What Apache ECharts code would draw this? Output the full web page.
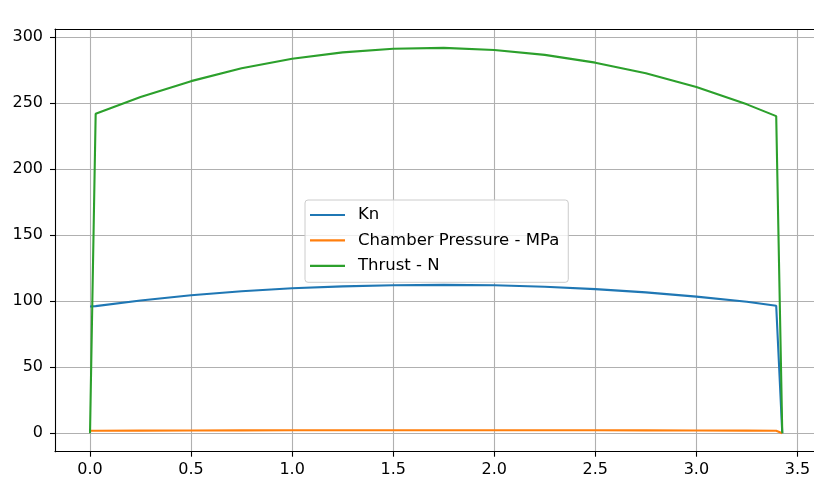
<!DOCTYPE html>
<html>
<head>
<meta charset="utf-8">
<script src="https://cdn.jsdelivr.net/npm/echarts@6/dist/echarts.min.js"></script>
<style>
  html, body { margin: 0; padding: 0; background: #ffffff; }
  #chart { width: 814px; height: 478px; }
</style>
</head>
<body>
<div id="chart"></div>
<script>
// Burn simulation output: time in seconds
const time = [0, 0.028, 0.25, 0.5, 0.75, 1.0, 1.25, 1.5, 1.75, 2.0, 2.25, 2.5, 2.75, 3.0, 3.25, 3.395, 3.425];
const kn = [96, 96.3, 100.6, 104.6, 107.6, 109.8, 111.3, 112.1, 112.4, 112.1, 111.0, 109.2, 106.7, 103.5, 99.6, 96.6, 0];
const pressure = [1.9, 1.9, 2.0, 2.1, 2.18, 2.24, 2.28, 2.3, 2.3, 2.29, 2.26, 2.21, 2.15, 2.07, 1.97, 1.9, 0];
const thrust = [0, 242, 254.8, 266.8, 276.5, 283.8, 288.6, 291.3, 292, 290.4, 286.7, 280.8, 272.7, 262.4, 249.2, 240.3, 0];

const xTicks = [0, 0.5, 1.0, 1.5, 2.0, 2.5, 3.0, 3.5];
const yTicks = [0, 50, 100, 150, 200, 250, 300];

const FONT = 'DejaVu Sans';
const colors = ['#1f77b4', '#ff7f0e', '#2ca02c'];

function pairs(ys) {
  return time.map((t, i) => [t, ys[i]]);
}

const chart = echarts.init(document.getElementById('chart'), null, { renderer: 'canvas' });

const X_MIN = -0.1732;
const X_MAX = 3.582;

chart.setOption({
  animation: false,
  backgroundColor: '#ffffff',
  color: colors,
  grid: { left: 55, top: 29, width: 759, height: 422.7, containLabel: false },
  xAxis: [
    {
      type: 'value',
      min: X_MIN,
      max: X_MAX,
      position: 'bottom',
      axisLine: { show: true, onZero: false, lineStyle: { color: '#000', width: 1.1 } },
      axisTick: { show: true, length: 5, customValues: xTicks, lineStyle: { color: '#000', width: 1.1 } },
      axisLabel: {
        show: true, customValues: xTicks, margin: 10,
        color: '#000', fontSize: 16, fontFamily: FONT,
        formatter: v => v.toFixed(1)
      },
      splitLine: { show: true, customValues: xTicks, lineStyle: { color: '#b0b0b0', width: 1.1 } }
    },
    {
      type: 'value',
      min: X_MIN,
      max: X_MAX,
      position: 'top',
      axisLine: { show: true, onZero: false, lineStyle: { color: '#000', width: 1.1 } },
      axisTick: { show: false },
      axisLabel: { show: false },
      splitLine: { show: false }
    }
  ],
  yAxis: {
    type: 'value',
    min: -14.0,
    max: 306.3,
    axisLine: { show: true, onZero: false, lineStyle: { color: '#000', width: 1.1 } },
    axisTick: { show: true, length: 5, customValues: yTicks, lineStyle: { color: '#000', width: 1.1 } },
    axisLabel: {
      show: true, customValues: yTicks, margin: 12,
      color: '#000', fontSize: 16, fontFamily: FONT
    },
    splitLine: { show: true, customValues: yTicks, lineStyle: { color: '#b0b0b0', width: 1.1 } }
  },
  legend: {
    orient: 'vertical',
    left: 305,
    top: 200,
    padding: [6.5, 9, 8, 5],
    itemWidth: 35,
    itemHeight: 2.2,
    itemGap: 8.4,
    icon: 'rect',
    textStyle: { fontSize: 16.5, lineHeight: 16, color: '#000', fontFamily: FONT, padding: [0, 0, 0, 8] },
    backgroundColor: 'rgba(255,255,255,0.8)',
    borderColor: '#cccccc',
    borderWidth: 1,
    borderRadius: 3,
    data: ['Kn', 'Chamber Pressure - MPa', 'Thrust - N']
  },
  series: [
    { name: 'Kn', type: 'line', data: pairs(kn), symbol: 'none', lineStyle: { width: 2.1 } },
    { name: 'Chamber Pressure - MPa', type: 'line', data: pairs(pressure), symbol: 'none', lineStyle: { width: 2.1 } },
    { name: 'Thrust - N', type: 'line', data: pairs(thrust), symbol: 'none', lineStyle: { width: 2.1 } }
  ]
});
</script>
</body>
</html>
